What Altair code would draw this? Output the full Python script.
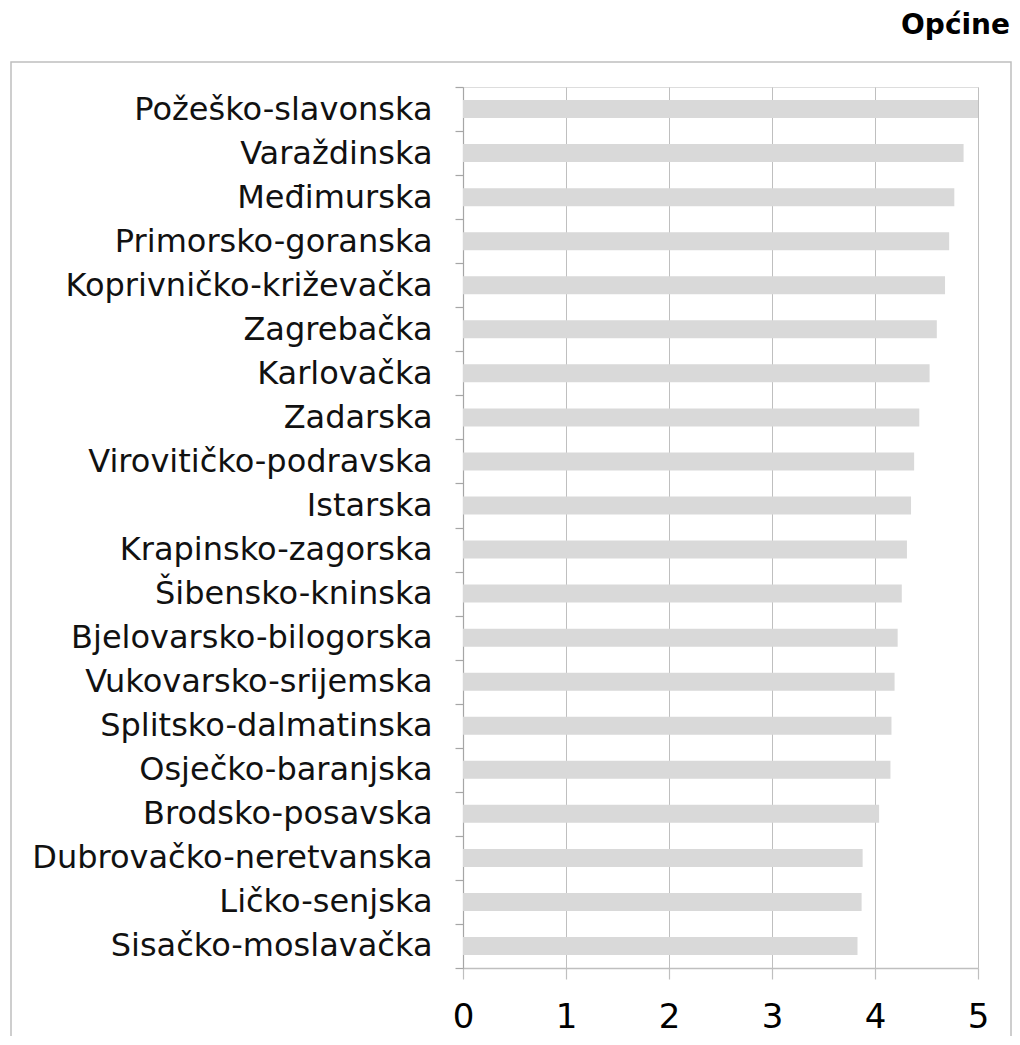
import altair as alt
import pandas as pd

counties = [
    "Požeško-slavonska", "Varaždinska", "Međimurska", "Primorsko-goranska",
    "Koprivničko-križevačka", "Zagrebačka", "Karlovačka", "Zadarska",
    "Virovitičko-podravska", "Istarska", "Krapinsko-zagorska", "Šibensko-kninska",
    "Bjelovarsko-bilogorska", "Vukovarsko-srijemska", "Splitsko-dalmatinska",
    "Osječko-baranjska", "Brodsko-posavska", "Dubrovačko-neretvanska",
    "Ličko-senjska", "Sisačko-moslavačka",
]
values = [5.00, 4.86, 4.77, 4.72, 4.68, 4.60, 4.53, 4.43, 4.38, 4.35,
          4.31, 4.26, 4.22, 4.19, 4.16, 4.15, 4.04, 3.88, 3.87, 3.83]
x_ticks = [0, 1, 2, 3, 4, 5]
title_text = "Općine"

df = pd.DataFrame({"zupanija": counties, "vrijednost": values})

FONT = "DejaVu Sans"

bars = alt.Chart(df).mark_bar(color="#d9d9d9", size=18).encode(
    x=alt.X("vrijednost:Q",
            scale=alt.Scale(domain=[0, 5], nice=False, zero=True),
            axis=alt.Axis(values=x_ticks, title=None, grid=True, gridColor="#bfbfbf",
                          gridWidth=1, domainColor="#bfbfbf", domainWidth=1.5,
                          tickColor="#bfbfbf", tickSize=11, tickWidth=1.2,
                          labelFont=FONT, labelFontSize=34, labelColor="#000000",
                          labelPadding=21, labelFlush=False)),
    y=alt.Y("zupanija:N", sort=counties,
            scale=alt.Scale(paddingInner=0, paddingOuter=0),
            axis=alt.Axis(title=None, grid=False, tickBand="extent",
                          domainColor="#a6a6a6", domainWidth=1.2,
                          tickColor="#a6a6a6", tickSize=8, tickWidth=1.2,
                          labelFont=FONT, labelFontSize=32, labelColor="#111111",
                          labelPadding=23, labelLimit=0)),
)

border = alt.Chart(pd.DataFrame({"t": [title_text]})).mark_rect(
    fill=None, stroke="#bfbfbf", strokeWidth=1.5
).encode(
    x=alt.value(-452), x2=alt.value(548), y=alt.value(-25), y2=alt.value(1000)
)

title = alt.Chart(pd.DataFrame({"t": [title_text]})).mark_text(
    font=FONT, fontSize=28, fontWeight="bold", align="right", baseline="alphabetic",
    color="#000000"
).encode(
    x=alt.value(547), y=alt.value(-53), text="t:N"
)

chart = alt.layer(border, bars, title).properties(
    width=515, height=881,
    autosize=alt.AutoSizeParams(type="none"),
    padding={"left": 455, "top": 79, "right": 34, "bottom": 68},
).configure_view(stroke=None).configure(background="white")

chart.save("out.html", embed_options={"renderer": "svg", "actions": False})
